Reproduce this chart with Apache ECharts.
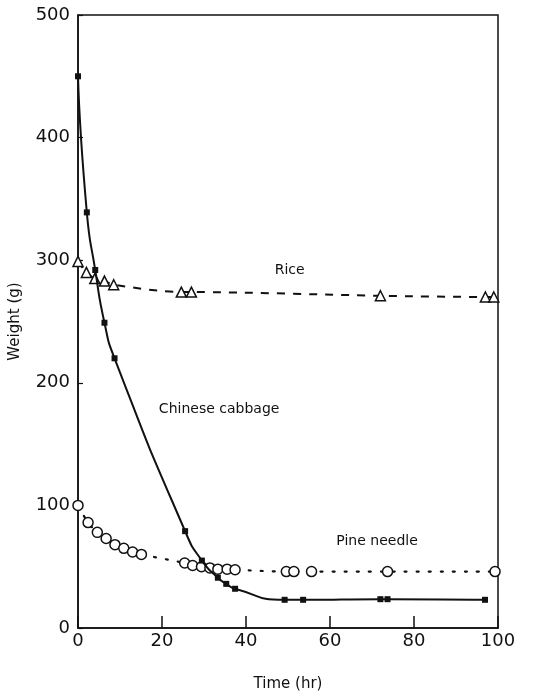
<!DOCTYPE html>
<html>
<head>
<meta charset="utf-8">
<script src="https://cdn.jsdelivr.net/npm/echarts@6/dist/echarts.min.js"></script>
<style>
  html, body { margin: 0; padding: 0; background: #fff; }
  #main { width: 536px; height: 697px; }
</style>
</head>
<body>
<div id="main"></div>
<script>
// data
var cabbageX = [0, 2.1, 4.1, 6.3, 8.7, 25.5, 29.5, 33.3, 35.3, 37.4, 49.2, 53.6, 72, 73.7, 96.9];
var cabbageY = [450, 339, 292, 249, 220, 79, 55, 41, 36, 32, 23, 23, 23.5, 23.5, 23];

var riceX = [0, 2, 4, 6.3, 8.5, 24.6, 27, 72, 97, 99];
var riceY = [299, 290, 285, 283, 280, 274, 274, 271, 270, 270];

var pineX = [0, 2.4, 4.6, 6.7, 8.8, 10.9, 13, 15.1, 25.4, 27.3, 29.4, 31.4, 33.3, 35.5, 37.4, 49.6, 51.4, 55.6, 73.7, 99.3];
var pineY = [100, 86, 78, 73, 68, 65, 62, 60, 53, 51, 50, 49, 48, 48, 47.5, 46, 46, 46, 46, 46];

var xTicks = [0, 20, 40, 60, 80, 100];
var yTicks = [0, 100, 200, 300, 400, 500];

// series labels: [text, x, y] in data units
var seriesLabels = [
    ['Rice', 50.4, 292],
    ['Chinese cabbage', 33.6, 178],
    ['Pine needle', 71.2, 71]
];

function pairs(xs, ys) {
    var d = [];
    for (var i = 0; i < xs.length; i++) {
        d.push([xs[i], ys[i]]);
    }
    return d;
}

var chart = echarts.init(document.getElementById('main'));
var font = 'DejaVu Sans, sans-serif';

var option = {
    backgroundColor: '#fff',
    animation: false,
    grid: {
        left: 75, top: 15, right: 38, bottom: 68,
        show: true, borderColor: '#111', borderWidth: 1.5
    },
    xAxis: {
        type: 'value',
        min: xTicks[0], max: xTicks[xTicks.length - 1], interval: 20,
        name: 'Time (hr)', nameLocation: 'middle', nameGap: 49,
        nameTextStyle: { fontFamily: font, fontSize: 15, color: '#111' },
        axisLine: { lineStyle: { color: '#111', width: 1.5 } },
        axisTick: { inside: true, length: 12, lineStyle: { color: '#111', width: 1.5 } },
        axisLabel: { fontFamily: font, fontSize: 18, color: '#111', margin: 4 },
        splitLine: { show: false }
    },
    yAxis: {
        type: 'value',
        min: yTicks[0], max: yTicks[yTicks.length - 1], interval: 100,
        name: 'Weight (g)', nameLocation: 'middle', nameGap: 55,
        nameTextStyle: { fontFamily: font, fontSize: 15, color: '#111' },
        axisLine: { lineStyle: { color: '#111', width: 1.5 } },
        axisTick: { inside: true, length: 5, lineStyle: { color: '#111', width: 1.2 } },
        axisLabel: { fontFamily: font, fontSize: 18, color: '#111', margin: 8 },
        splitLine: { show: false }
    },
    series: [
        {
            name: 'Chinese cabbage',
            type: 'line',
            data: pairs(cabbageX, cabbageY),
            smooth: 0.6,
            symbol: 'rect',
            symbolSize: 6,
            itemStyle: { color: '#111' },
            lineStyle: { color: '#111', width: 2 },
            z: 3
        },
        {
            name: 'Rice',
            type: 'line',
            data: pairs(riceX, riceY),
            smooth: 0.3,
            symbol: 'triangle',
            symbolSize: 10,
            itemStyle: { color: '#fff', borderColor: '#111', borderWidth: 1.5 },
            lineStyle: { color: '#111', width: 2, type: [8, 8] },
            z: 2
        },
        {
            name: 'Pine needle',
            type: 'line',
            data: pairs(pineX, pineY),
            smooth: 0.3,
            symbol: 'circle',
            symbolSize: 10,
            itemStyle: { color: '#fff', borderColor: '#111', borderWidth: 1.5 },
            lineStyle: { color: '#111', width: 2.2, type: [2, 10], cap: 'round' },
            z: 2
        }
    ]
};

chart.setOption(option);

// place series names at data coordinates
var texts = [];
for (var i = 0; i < seriesLabels.length; i++) {
    var p = chart.convertToPixel({ gridIndex: 0 }, [seriesLabels[i][1], seriesLabels[i][2]]);
    texts.push({
        type: 'text',
        x: p[0], y: p[1],
        style: {
            text: seriesLabels[i][0],
            fontFamily: font, fontSize: 14, fill: '#111',
            align: 'center', verticalAlign: 'middle'
        }
    });
}
chart.setOption({ graphic: texts });
</script>
</body>
</html>
